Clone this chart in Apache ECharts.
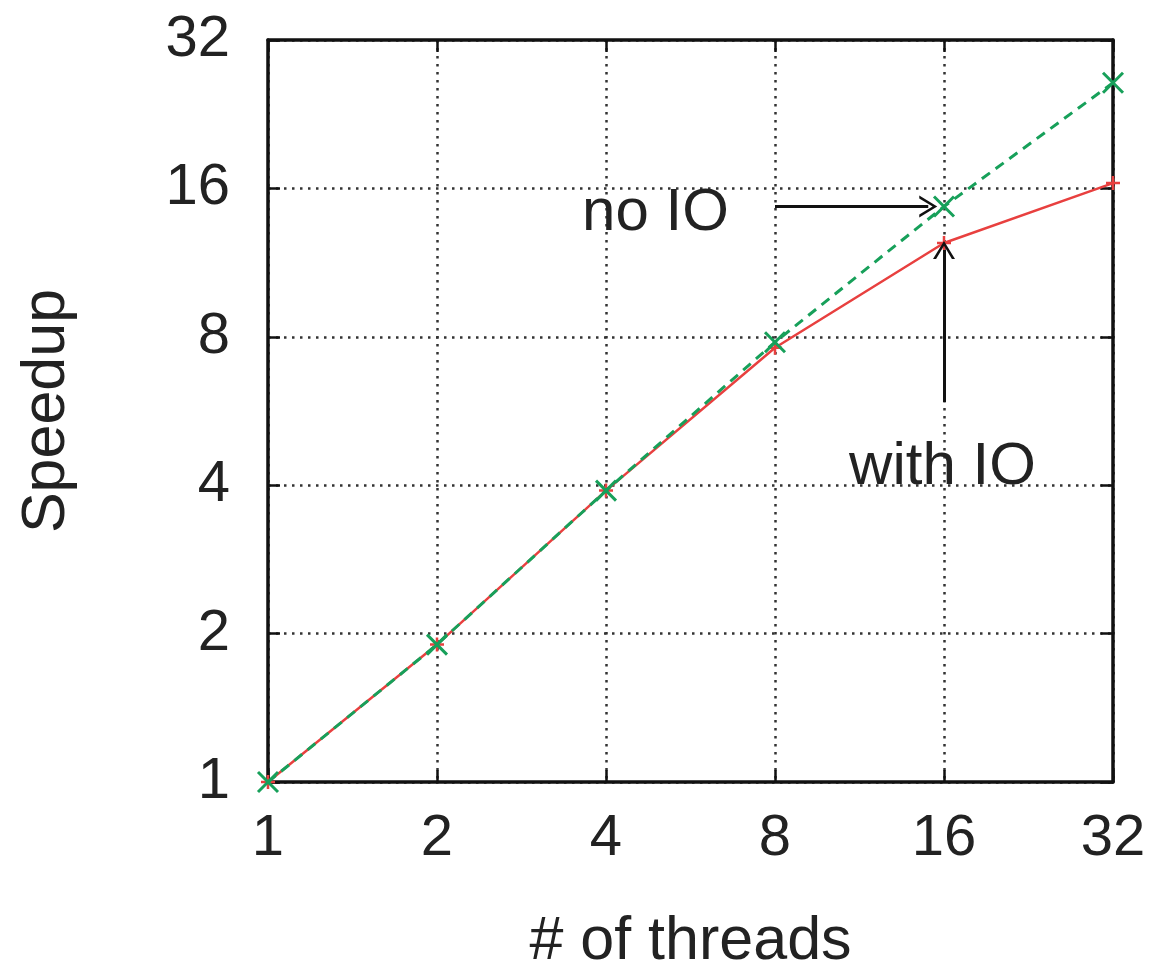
<!DOCTYPE html>
<html>
<head>
<meta charset="utf-8">
<script src="https://cdn.jsdelivr.net/npm/echarts@6/dist/echarts.min.js"></script>
<style>
	html, body { margin: 0; padding: 0; background: #fff; }
	#chart { width: 1175px; height: 972px; }
</style>
</head>
<body>
<div id="chart"></div>
<script>
	'use strict';

	var threads = [1, 2, 4, 8, 16, 32];
	var noIO = [1, 1.9, 3.9, 7.8, 14.7, 26.2];
	var withIO = [1, 1.9, 3.9, 7.6, 12.4, 16.4];

	// annotation positions in data space
	var noIOText = [4.9, 14.2];
	var noIOArrow = [[8.0, 14.7], [15.0, 14.7]];
	var withIOText = [15.9, 4.35];
	var withIOArrow = [[16, 5.9], [16, 12.0]];

	var FONT = 'Liberation Sans, Arial, sans-serif';
	var CROSS = 'path://M0,0L10,10M10,0L0,10';
	var PLUS = 'path://M5,0L5,10M0,5L10,5';
	var CHEVRON = 'path://M0,10L5,0L10,10L8.6,10L5,2.6L1.4,10Z';

	var pairs = function(xs, ys) {
		var out = [];
		for (var i = 0; i < xs.length; i++) {
			out.push([xs[i], ys[i]]);
		}
		return out;
	};

	var fmt = function(v) {
		return String(Math.round(v));
	};

	var logAxis = function(extra) {
		var axis = {
			type : 'log',
			logBase : 2,
			min : 1,
			max : 32,
			splitNumber : 5,
			axisLine : { show : true, lineStyle : { color : '#111', width : 3.5 } },
			axisTick : { show : true, inside : true, length : 12, lineStyle : { color : '#111', width : 2.5 } },
			minorTick : { show : false },
			splitLine : { show : false },
			axisLabel : { show : false }
		};
		for (var k in extra) {
			axis[k] = extra[k];
		}
		return axis;
	};

	var gridLine = { show : true, lineStyle : { color : '#333', width : 2.5, type : [2.5, 5.5] } };

	var chart = echarts.init(document.getElementById('chart'), null, { renderer : 'canvas' });

	chart.setOption({
		animation : false,
		backgroundColor : '#fff',
		textStyle : { fontFamily : FONT },
		grid : { left : 268, right : 62, top : 40, bottom : 190, containLabel : false, outerBoundsMode : 'none' },
		xAxis : [
			logAxis({
				position : 'bottom',
				name : '# of threads',
				nameLocation : 'middle',
				nameGap : 130,
				nameTextStyle : { fontSize : 61, color : '#222', fontFamily : FONT },
				splitLine : gridLine,
				axisLabel : { show : true, fontSize : 58, color : '#222', margin : 28, formatter : fmt, fontFamily : FONT }
			}),
			logAxis({ position : 'top' })
		],
		yAxis : [
			logAxis({
				position : 'left',
				name : 'Speedup',
				nameLocation : 'middle',
				nameGap : 190,
				nameRotate : 90,
				nameTextStyle : { fontSize : 61, color : '#222', fontFamily : FONT },
				splitLine : gridLine,
				axisLabel : { show : true, fontSize : 58, color : '#222', margin : 38, formatter : fmt, fontFamily : FONT }
			}),
			logAxis({ position : 'right' })
		],
		series : [
			{
				name : 'with IO',
				type : 'line',
				data : pairs(threads, withIO),
				symbol : PLUS,
				symbolSize : 14,
				itemStyle : { color : 'none', borderColor : '#e8403f', borderWidth : 2.5 },
				lineStyle : { color : '#e8403f', width : 2.5 },
				z : 3
			},
			{
				name : 'no IO',
				type : 'line',
				data : pairs(threads, noIO),
				symbol : CROSS,
				symbolSize : 20,
				itemStyle : { color : 'none', borderColor : '#17a05a', borderWidth : 3 },
				lineStyle : { color : '#17a05a', width : 3, type : [10, 7] },
				z : 4,
				markLine : {
					silent : true,
					animation : false,
					symbol : [ 'none', CHEVRON ],
					symbolSize : [ 22, 18 ],
					label : { show : false },
					lineStyle : { color : '#111', width : 3, type : 'solid' },
					data : [
						[ { coord : noIOArrow[0] }, { coord : noIOArrow[1] } ],
						[ { coord : withIOArrow[0] }, { coord : withIOArrow[1] } ]
					]
				},
				markPoint : {
					silent : true,
					animation : false,
					symbol : 'circle',
					symbolSize : 1,
					itemStyle : { color : 'rgba(0,0,0,0)' },
					label : { show : true, position : 'inside', fontSize : 60, color : '#222', fontFamily : FONT, formatter : '{b}' },
					data : [
						{ name : 'no IO', coord : noIOText },
						{ name : 'with IO', coord : withIOText }
					]
				}
			}
		]
	});
</script>
</body>
</html>
